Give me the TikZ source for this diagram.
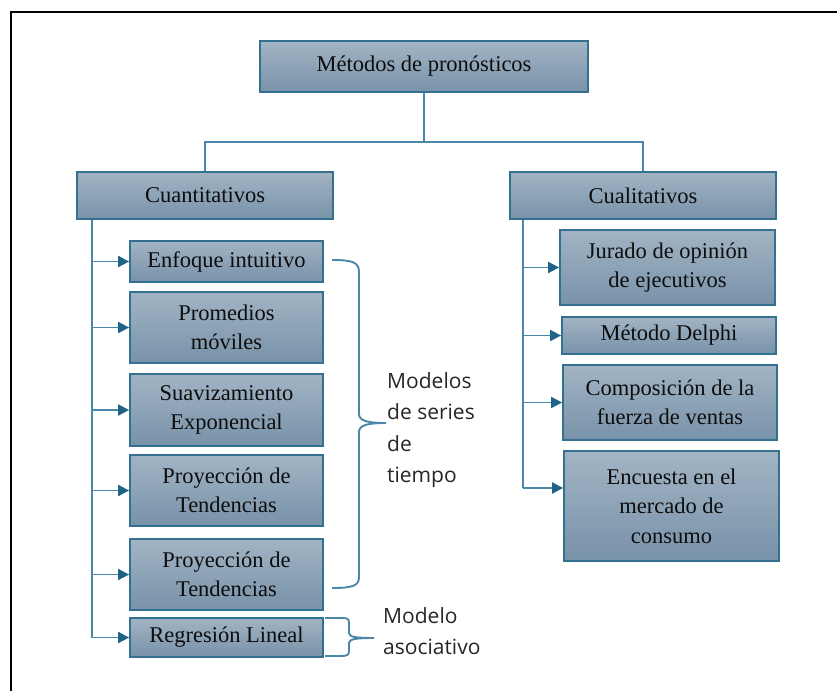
\documentclass[tikz,border=0pt]{standalone}
\usepackage{fontspec}
\setmainfont{Liberation Serif}
\newfontfamily\labelfont{Open Sans}
\usetikzlibrary{arrows.meta,calc}

\definecolor{boxtop}{HTML}{A2B4C4}
\definecolor{boxbot}{HTML}{7892A9}
\definecolor{boxline}{HTML}{34708F}
\definecolor{linkcol}{HTML}{4A87A8}
\definecolor{tipcol}{HTML}{1F6487}

\tikzset{
    box/.style={draw=boxline, line width=1.8pt, top color=boxtop, bottom color=boxbot,
        align=center, inner sep=0pt, text=black!95, font=\fontsize{22.5}{29.5}\selectfont},
    link/.style={draw=linkcol, line width=1.9pt},
    arr/.style={link, -{Triangle[length=11pt,width=11pt,color=tipcol]}},
    grp/.style={anchor=west, align=left, inner sep=0pt, text=black!85,
        font=\labelfont\fontsize{21}{31.5}\selectfont}
}

\begin{document}
\begin{tikzpicture}[x=1pt,y=-1pt]

        \useasboundingbox (0,0) rectangle (837,691);

        % frame
        \draw [line width=2.8pt] (837,12) -- (11,12) -- (11,691);

        % root
        \node [box, minimum width=328, minimum height=51] (root) at (424,66.5) {Métodos de pronósticos};

        % two families
        \node [box, minimum width=256, minimum height=47] (cuant) at (205,195.5) {Cuantitativos};
        \node [box, minimum width=266, minimum height=47] (cual) at (643,195.5) {Cualitativos};
        \draw [link] (root.south) -- ++(0,49) -| (cuant.north);
        \draw [link] (root.south) ++(0,49) -| (cual.north);

        % quantitative methods
        \node [box, minimum width=193, minimum height=41] (enf) at (226.5,261.5) {Enfoque intuitivo};
        \node [box, minimum width=193, minimum height=71] (prom) at (226.5,327.5) {Promedios\\móviles};
        \node [box, minimum width=193, minimum height=72] (suav) at (226.5,410) {Suavizamiento\\Exponencial};
        \node [box, minimum width=193, minimum height=71] (proy1) at (226.5,490.5) {Proyección de\\Tendencias};
        \node [box, minimum width=193, minimum height=71] (proy2) at (226.5,574.5) {Proyección de\\Tendencias};
        \node [box, minimum width=193, minimum height=39] (reg) at (226.5,637.5) {Regresión Lineal};

        \coordinate (lt) at ($(cuant.south west)+(16,0)$);
        \draw [link] (lt) -- (lt |- reg.west);
        \foreach \n in {enf,prom,suav,proy1,proy2,reg}
            \draw [arr] (lt |- \n.west) -- (\n.west);

        % qualitative methods
        \node [box, minimum width=215, minimum height=75] (jur) at (667.5,267.5) {Jurado de opinión\\de ejecutivos};
        \node [box, minimum width=214, minimum height=37] (del) at (669,335.5) {Método Delphi};
        \node [box, minimum width=214, minimum height=75] (comp) at (670,402.5) {Composición de la\\fuerza de ventas};
        \node [box, minimum width=215, minimum height=110] (enc) at (671.5,506) {Encuesta en el\\mercado de\\consumo};

        \coordinate (rt) at ($(cual.south west)+(14,0)$);
        \coordinate (ea) at ([yshift=18pt]enc.west);
        \draw [link] (rt) -- (rt |- ea);
        \foreach \n in {jur,del,comp}
            \draw [arr] (rt |- \n.west) -- (\n.west);
        \draw [arr] (rt |- ea) -- (ea);

        % braces
        \draw [link] (332,260) .. controls (352,260) and (359,262) .. (359,272) -- (359,414)
            .. controls (359,421) and (368,423) .. (386,423)
            .. controls (368,423) and (359,425) .. (359,432) -- (359,577)
            .. controls (359,586) and (352,588) .. (332,588);
        \draw [link] (325,618) -- (343,618) .. controls (349,618) and (349,620) .. (349,625) -- (349,633)
            .. controls (349,637) and (356,638) .. (374,638)
            .. controls (356,638) and (349,639) .. (349,643) -- (349,651)
            .. controls (349,655) and (347,656) .. (341,656) -- (325,656);

        \node [grp] (series) at (387,430) {Modelos\\de series\\de\\tiempo};
        \node [grp] (asoc) at (383,631) {Modelo\\asociativo};

\end{tikzpicture}
\end{document}
